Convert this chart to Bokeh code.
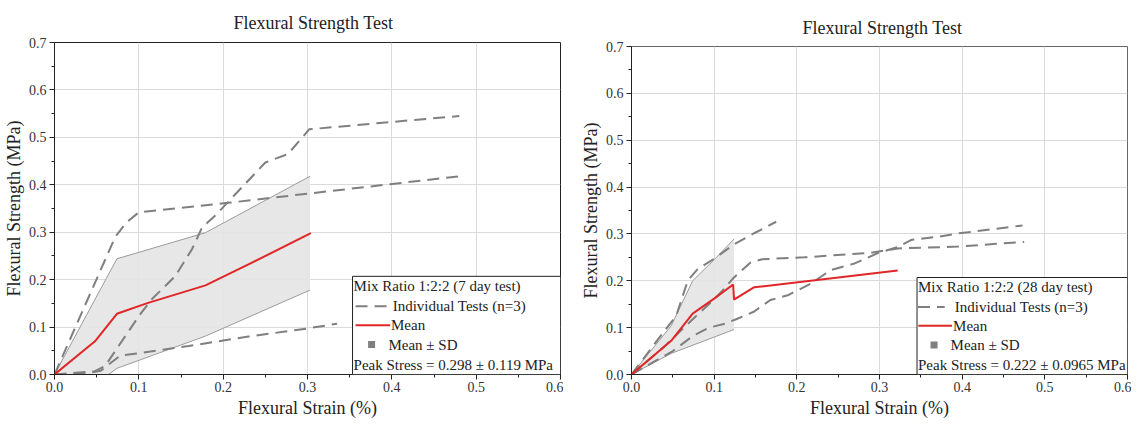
from bokeh.plotting import figure
from bokeh.models import (Range1d, FixedTicker, NumeralTickFormatter, BoxAnnotation,
                          Label, Arrow, Spacer)
from bokeh.layouts import row, column
from bokeh.embed import file_html
from bokeh.resources import INLINE

# ---------------- data ----------------
X_TICKS = [0.0, 0.1, 0.2, 0.3, 0.4, 0.5, 0.6]
X_MINOR = [0.05, 0.15, 0.25, 0.35, 0.45, 0.55]
Y_TICKS = [0.0, 0.1, 0.2, 0.3, 0.4, 0.5, 0.6, 0.7]
Y_MINOR = [0.05, 0.15, 0.25, 0.35, 0.45, 0.55, 0.65]

TITLE = "Flexural Strength Test"
X_LABEL = "Flexural Strain (%)"
Y_LABEL = "Flexural Strength (MPa)"
LEG_TESTS = "Individual Tests (n=3)"
LEG_MEAN = "Mean"
LEG_SD = "Mean \u00b1 SD"

# 7 day test
D7_T1_X = [0, 0.072, 0.085, 0.1, 0.206, 0.48]
D7_T1_Y = [0, 0.29, 0.32, 0.342, 0.362, 0.418]
D7_T2_X = [0, 0.048, 0.06, 0.076, 0.1, 0.115, 0.143, 0.163, 0.175, 0.19, 0.25, 0.277, 0.302, 0.48]
D7_T2_Y = [0, 0.007, 0.018, 0.06, 0.123, 0.158, 0.207, 0.264, 0.31, 0.334, 0.447, 0.465, 0.517, 0.545]
D7_T3_X = [0, 0.04, 0.055, 0.065, 0.078, 0.1, 0.159, 0.23, 0.3, 0.335]
D7_T3_Y = [0, 0.003, 0.008, 0.022, 0.04, 0.045, 0.06, 0.08, 0.097, 0.107]
D7_MEAN_X = [0, 0.048, 0.074, 0.111, 0.179, 0.23, 0.304]
D7_MEAN_Y = [0, 0.070, 0.128, 0.151, 0.188, 0.232, 0.298]
D7_UP_X = [0, 0.074, 0.179, 0.303]
D7_UP_Y = [0, 0.244, 0.299, 0.418]
D7_LO_X = [0, 0.064, 0.074, 0.179, 0.303]
D7_LO_Y = [0, 0, 0.013, 0.081, 0.178]
D7_LEG_TITLE = "Mix Ratio 1:2:2 (7 day test)"
D7_PEAK = "Peak Stress = 0.298 \u00b1 0.119 MPa"

# 28 day test
D28_T1_X = [0, 0.038, 0.054, 0.068, 0.08, 0.1, 0.125, 0.149, 0.175]
D28_T1_Y = [0, 0.089, 0.125, 0.2, 0.225, 0.247, 0.279, 0.302, 0.326]
D28_T2_X = [0, 0.04, 0.074, 0.098, 0.11, 0.124, 0.144, 0.158, 0.209, 0.29, 0.322, 0.395, 0.475]
D28_T2_Y = [0, 0.06, 0.118, 0.157, 0.179, 0.207, 0.239, 0.246, 0.25, 0.26, 0.269, 0.273, 0.283]
D28_T3_X = [0, 0.05, 0.074, 0.094, 0.114, 0.128, 0.148, 0.168, 0.189, 0.217, 0.241, 0.27, 0.298,
            0.322, 0.338, 0.371, 0.395, 0.473]
D28_T3_Y = [0, 0.05, 0.082, 0.1, 0.109, 0.119, 0.134, 0.159, 0.169, 0.194, 0.223, 0.237, 0.259,
            0.272, 0.287, 0.294, 0.301, 0.318]
D28_MEAN_X = [0, 0.048, 0.074, 0.1, 0.123, 0.124, 0.148, 0.322]
D28_MEAN_Y = [0, 0.072, 0.13, 0.162, 0.192, 0.16, 0.186, 0.222]
D28_UP_X = [0, 0.048, 0.074, 0.1, 0.124]
D28_UP_Y = [0, 0.104, 0.2, 0.245, 0.289]
D28_LO_X = [0, 0.048, 0.124]
D28_LO_Y = [0, 0.045, 0.096]
D28_LEG_TITLE = "Mix Ratio 1:2:2 (28 day test)"
D28_PEAK = "Peak Stress = 0.222 \u00b1 0.0965 MPa"

# ---------------- style ----------------
FONT = "Liberation Serif"
TEST_COLOR = "#7f7f7f"
MEAN_COLOR = "#e02626"
BAND_FILL = "#e4e4e4"
BAND_LINE = "#9a9a9a"
GRID = "#dadada"
X_MAX, Y_MAX = 0.6, 0.7


def build(tests, mean, up, lo, leg_title, peak, geo):
    p = figure(frame_width=geo["fw"], frame_height=geo["fh"],
               x_range=Range1d(0, X_MAX), y_range=Range1d(0, Y_MAX),
               output_backend="svg", toolbar_location=None,
               min_border_left=geo["bl"], min_border_right=geo["br"],
               min_border_top=geo["bt"], min_border_bottom=geo["bb"])
    p.title.text = TITLE
    p.title.align = "left"
    p.title.offset = geo["to"]
    p.title.text_font = FONT
    p.title.text_font_size = "18px"
    p.title.text_font_style = "normal"
    p.title.text_color = "#222222"
    p.title.standoff = geo["ts"]
    p.outline_line_color = geo["outline"]
    p.outline_line_alpha = 1
    p.background_fill_color = "white"
    p.border_fill_color = "white"

    p.xaxis.ticker = FixedTicker(ticks=X_TICKS, minor_ticks=X_MINOR)
    p.yaxis.ticker = FixedTicker(ticks=Y_TICKS, minor_ticks=Y_MINOR)
    p.xaxis.formatter = NumeralTickFormatter(format="0.0")
    p.yaxis.formatter = NumeralTickFormatter(format="0.0")
    p.xaxis.axis_label = X_LABEL
    p.yaxis.axis_label = Y_LABEL
    for ax in (p.xaxis, p.yaxis):
        ax.axis_label_text_font = FONT
        ax.axis_label_text_font_size = "18px"
        ax.axis_label_text_font_style = "normal"
        ax.axis_label_text_color = "#222222"
        ax.major_label_text_font = FONT
        ax.major_label_text_font_size = "14px"
        ax.major_label_text_color = "#333333"
        ax.axis_line_color = "#222222"
        ax.major_tick_line_color = "#222222"
        ax.minor_tick_line_color = "#222222"
        ax.major_tick_in = 0
        ax.major_tick_out = 5
        ax.minor_tick_in = 0
        ax.minor_tick_out = 3
    p.xaxis.major_label_standoff = 2
    p.xaxis.axis_label_standoff = 3
    p.yaxis.major_label_standoff = 3
    p.yaxis.axis_label_standoff = 2
    p.grid.grid_line_color = GRID
    p.grid.grid_line_width = 1

    # SD band
    bx = list(up[0]) + list(lo[0])[::-1]
    by = list(up[1]) + list(lo[1])[::-1]
    p.patch(bx, by, fill_color=BAND_FILL, fill_alpha=0.9, line_color=None)
    p.line(up[0], up[1], line_color=BAND_LINE, line_width=1)
    p.line(lo[0], lo[1], line_color=BAND_LINE, line_width=1)

    for tx, ty in tests:
        p.line(tx, ty, line_color=TEST_COLOR, line_width=2, line_dash="12 7")
    p.line(mean[0], mean[1], line_color=MEAN_COLOR, line_width=2)

    # legend box
    L = geo["leg"]
    sx = X_MAX / geo["fw"]
    sy = Y_MAX / geo["fh"]
    p.add_layout(BoxAnnotation(left=L["box_l"], right=X_MAX, bottom=0, top=L["box_t"],
                               fill_color="white", fill_alpha=1,
                               line_color="#222222", line_width=1, line_alpha=1))
    rows = L["rows"]
    lab = dict(text_font=FONT, text_font_size="15px", text_color="#222222",
               text_baseline="middle", text_align="left")
    p.add_layout(Label(x=L["tx0"], y=rows[0], text=leg_title, **lab))
    p.add_layout(Arrow(end=None, x_start=L["dash"][0], x_end=L["dash"][1],
                       y_start=rows[1], y_end=rows[1], line_color=TEST_COLOR,
                       line_width=2, line_dash="12 7"))
    p.add_layout(Label(x=L["dash_t"], y=rows[1], text=LEG_TESTS, **lab))
    p.add_layout(Arrow(end=None, x_start=L["red"][0], x_end=L["red"][1],
                       y_start=rows[2], y_end=rows[2], line_color=MEAN_COLOR,
                       line_width=2))
    p.add_layout(Label(x=L["red_t"], y=rows[2], text=LEG_MEAN, **lab))
    hx, hy = 3.5 * sx, 3.5 * sy
    p.add_layout(BoxAnnotation(left=L["sq"] - hx, right=L["sq"] + hx,
                               bottom=rows[3] - hy, top=rows[3] + hy,
                               fill_color=TEST_COLOR, fill_alpha=1, line_color=None))
    p.add_layout(Label(x=L["sq_t"], y=rows[3], text=LEG_SD, **lab))
    p.add_layout(Label(x=L["tx0"], y=rows[4], text=peak, **lab))
    return p


ROWS = [0.186, 0.144, 0.104, 0.063, 0.021]

geo7 = dict(fw=506, fh=332, bl=52, br=3, bt=42, bb=48, ts=20, to=179, outline="#222222",
            leg=dict(box_l=0.3534, box_t=0.207, rows=ROWS, tx0=0.3546,
                     dash=(0.357, 0.398), dash_t=0.401,
                     red=(0.357, 0.398), red_t=0.399,
                     sq=0.376, sq_t=0.396))
geo28 = dict(fw=496, fh=328, bl=68, br=4, bt=42, bb=48, ts=18, to=171, outline="#666666",
             leg=dict(box_l=0.3454, box_t=0.207, rows=ROWS, tx0=0.3466,
                      dash=(0.3466, 0.3789), dash_t=0.391,
                      red=(0.347, 0.3877), red_t=0.389,
                      sq=0.366, sq_t=0.386))

p1 = build([(D7_T1_X, D7_T1_Y), (D7_T2_X, D7_T2_Y), (D7_T3_X, D7_T3_Y)],
           (D7_MEAN_X, D7_MEAN_Y), (D7_UP_X, D7_UP_Y), (D7_LO_X, D7_LO_Y),
           D7_LEG_TITLE, D7_PEAK, geo7)
p2 = build([(D28_T1_X, D28_T1_Y), (D28_T2_X, D28_T2_Y), (D28_T3_X, D28_T3_Y)],
           (D28_MEAN_X, D28_MEAN_Y), (D28_UP_X, D28_UP_Y), (D28_LO_X, D28_LO_Y),
           D28_LEG_TITLE, D28_PEAK, geo28)

layout = row(p1, column(Spacer(width=10, height=4), p2))
open("out.html", "w").write(file_html(layout, INLINE))
